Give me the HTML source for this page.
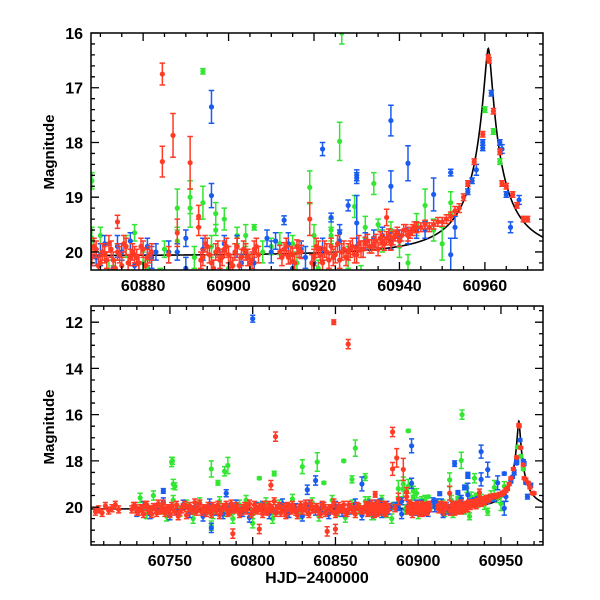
<!DOCTYPE html>
<html><head><meta charset="utf-8"><style>
html,body{margin:0;padding:0;background:#fff}
svg{display:block}
text{font-family:"Liberation Sans",sans-serif;fill:#000}
</style></head><body>
<svg id="chart" width="600" height="600" viewBox="0 0 600 600" xmlns="http://www.w3.org/2000/svg">
<defs>
<clipPath id="clipTop"><rect x="91" y="33" width="452" height="237"/></clipPath>
<clipPath id="clipBot"><rect x="91" y="306" width="452" height="239"/></clipPath>
</defs>
<g id="topPanel"></g>
<g id="botPanel"></g>
<text transform="translate(54,152) rotate(-90)" text-anchor="middle" font-size="15" font-weight="bold">Magnitude</text>
<text transform="translate(54,427) rotate(-90)" text-anchor="middle" font-size="15" font-weight="bold">Magnitude</text>
<text x="317" y="583" text-anchor="middle" font-size="16" font-weight="bold">HJD−2400000</text>
</svg>
<script>
const redX = [60705,60707,60709,60711,60713,60715,60717,60719,
60727,60729,60731,60733,60735,60737,60739,60741,60743,60745,
60747,60749,60751,60753,60755,60757,60759,60761,60763,60765,
60767,60769,60771,60773,60775,60777,60779,60781,60783,60785,
60787,60789,60791,60793,60795,60797,60799,60801,60803,60805,
60807,60809,60811,60813,60815,60817,60819,60821,60823,60825,
60827,60829,60831,60833,60835,60837,60839,60841,60843,60845,
60847,60849,60851,60853,60855,60857,60859,60861,60863,60865,
60868,60869,60870,60871,60872,60873,60874,60875,60876,60877,60878,60879,60880,60881,60882,
60886,60888,60884.5,60884.5,60887,60891,60874,
60893,60894,60895,60896,60897,60898,60899,60900,60901,60902,60903,60904,60905,60906,60907,60893,
60912,60913,60914,60915,60916,60917,
60919,60920,60921,60922,60923,60924,60925,60926,60927,60928,60929,60930,60931,60932,60933,60934,60935,60936,60937,60938,60939,60940,60941,60942,60943,60944,60937,
60945,60946,60947,60948,60949,60950,60951,60952,60953,60954,60955,60956,60957.5,60959.5,60960.8,60961,60962,60963.5,60964,60965,60966.5,60967.5,60969,60970,
60849,60857.7,60813.8,60811,60788,60804,60845,60850];
const redY = [20.2,20.1,20.25,19.95,20.15,20.05,19.9,20.1,
20.1,19.95,20.2,20.05,19.9,20.15,20.3,20.0,19.85,20.1,
20.25,20.05,19.95,20.2,20.4,20.1,19.9,20.05,20.15,19.8,
20.0,20.2,20.1,19.95,20.3,20.05,19.9,20.15,20.0,20.25,
19.85,20.1,20.05,20.2,19.95,20.0,20.3,19.9,20.15,20.05,
19.9,20.2,20.1,19.75,20.05,20.25,20.0,19.95,20.15,20.1,
20.35,19.9,20.05,20.2,19.85,20.1,20.0,20.3,19.95,20.15,
20.05,19.8,20.2,20.1,19.9,20.25,20.0,20.15,19.95,20.1,
20.1,19.95,20.2,20.05,19.85,20.15,20.0,20.25,19.9,20.1,20.05,20.2,19.95,20.1,20.0,
20.05,19.65,16.75,18.35,17.87,18.37,19.45,
19.55,20.1,19.9,20.2,20.0,20.15,19.95,20.05,20.25,19.9,20.1,20.0,20.2,19.95,20.05,19.35,
20.0,19.95,20.1,20.05,19.9,20.0,
19.4,20.1,19.95,20.2,20.0,19.9,20.05,20.15,19.95,20.0,19.9,20.05,19.95,19.85,19.9,19.85,19.95,19.8,19.75,19.85,19.7,19.8,19.6,19.7,19.6,19.55,19.37,
19.55,19.5,19.55,19.5,19.45,19.45,19.4,19.35,19.25,19.2,19.0,18.75,18.35,17.85,16.45,16.5,17.43,18.17,18.75,18.8,18.95,19.15,19.4,19.4,
12.0,12.95,16.95,19.05,21.15,20.95,21.05,20.95];
const redE = [0.15,0.15,0.15,0.15,0.15,0.15,0.15,0.15,
0.15,0.15,0.15,0.15,0.15,0.15,0.15,0.15,0.15,0.15,
0.15,0.15,0.15,0.15,0.15,0.15,0.15,0.15,0.15,0.15,
0.15,0.15,0.15,0.15,0.15,0.15,0.15,0.15,0.15,0.15,
0.15,0.15,0.15,0.15,0.15,0.15,0.15,0.15,0.15,0.15,
0.15,0.15,0.15,0.15,0.15,0.15,0.15,0.15,0.15,0.15,
0.15,0.15,0.15,0.15,0.15,0.15,0.15,0.15,0.15,0.15,
0.15,0.15,0.15,0.15,0.15,0.15,0.15,0.15,0.15,0.15,
0.15,0.15,0.15,0.15,0.15,0.15,0.15,0.15,0.15,0.15,0.15,0.15,0.15,0.15,0.15,
0.15,0.25,0.2,0.28,0.4,0.48,0.12,
0.15,0.15,0.15,0.15,0.15,0.15,0.15,0.15,0.15,0.15,0.15,0.15,0.15,0.15,0.15,0.2,
0.12,0.12,0.12,0.12,0.12,0.12,
0.3,0.15,0.15,0.15,0.15,0.15,0.15,0.15,0.15,0.15,0.15,0.15,0.15,0.12,0.12,0.12,0.12,0.12,0.12,0.12,0.1,0.1,0.1,0.1,0.1,0.1,0.15,
0.08,0.08,0.08,0.08,0.08,0.08,0.08,0.08,0.08,0.08,0.06,0.05,0.05,0.05,0.05,0.05,0.05,0.05,0.05,0.05,0.05,0.05,0.05,0.05,
0.1,0.2,0.2,0.2,0.2,0.2,0.2,0.2];

const red2X = [60728,60730,60732,60734,60736,60738,60740,60742,60744,60746,
60748,60750,60752,60754,60756,60758,60760,60762,60764,60766,
60768,60770,60772,60774,60776,60778,60780,60782,60784,60786,
60788,60790,60792,60794,60796,60798,60800,60802,60804,60806,
60808,60810,60812,60814,60816,60818,60820,60822,60824,60826,
60828,60830,60832,60834,60836,60838,60840,60842,60844,60846,
60848,60850,60852,60854,60856,60858,60860,60862,60864,60866,
60868.5,60869.5,60870.5,60871.5,60872.5,60873.5,60874.5,60875.5,60876.5,60877.5,60878.5,60879.5,60880.5,60881.5,
60893.5,60894.5,60895.5,60896.5,60897.5,60898.5,60899.5,60900.5,60901.5,60902.5,60903.5,60904.5,60905.5,60906.5,
60912.5,60913.5,60914.5,60915.5,60916.5,
60919.5,60920.5,60921.5,60922.5,60923.5,60924.5,60925.5,60926.5,60927.5,60928.5,60929.5,60930.5,60931.5,60932.5,60933.5,60934.5,60935.5,60936.5,60937.5,60938.5,60939.5,60940.5,60941.5,60942.5,60943.5];
const red2Y = [19.95,20.2,20.05,20.3,19.9,20.1,20.0,20.25,20.15,19.85,
20.05,20.3,20.1,19.9,20.2,20.0,20.35,19.95,20.1,20.2,
19.85,20.05,20.25,20.1,19.95,20.15,20.35,20.0,19.9,20.2,
20.1,19.95,20.3,20.05,20.15,19.85,20.2,20.1,20.0,20.3,
20.15,19.9,20.05,20.25,19.95,20.1,20.35,20.0,19.9,20.2,
20.05,20.15,19.85,20.3,20.1,20.0,20.2,19.9,20.25,20.05,
20.15,20.3,19.95,20.05,20.2,19.9,20.1,20.3,20.0,20.15,
19.9,20.25,20.0,20.15,19.95,20.3,20.05,19.85,20.2,20.0,20.1,19.9,20.25,20.05,
20.15,19.85,20.05,20.3,19.95,20.1,19.9,20.2,20.0,20.25,19.95,20.1,20.15,19.9,
20.1,19.9,20.05,20.2,19.95,
20.2,19.9,20.05,19.95,20.15,20.1,19.85,20.0,20.1,19.95,20.05,19.85,19.95,19.8,19.9,19.8,19.75,19.85,19.7,19.75,19.65,19.7,19.6,19.65,19.55];
const red2E = [0.15,0.15,0.15,0.15,0.15,0.15,0.15,0.15,0.15,0.15,
0.15,0.15,0.15,0.15,0.15,0.15,0.15,0.15,0.15,0.15,
0.15,0.15,0.15,0.15,0.15,0.15,0.15,0.15,0.15,0.15,
0.15,0.15,0.15,0.15,0.15,0.15,0.15,0.15,0.15,0.15,
0.15,0.15,0.15,0.15,0.15,0.15,0.15,0.15,0.15,0.15,
0.15,0.15,0.15,0.15,0.15,0.15,0.15,0.15,0.15,0.15,
0.15,0.15,0.15,0.15,0.15,0.15,0.15,0.15,0.15,0.15,
0.15,0.15,0.15,0.15,0.15,0.15,0.15,0.15,0.15,0.15,0.15,0.15,0.15,0.15,
0.15,0.15,0.15,0.15,0.15,0.15,0.15,0.15,0.15,0.15,0.15,0.15,0.15,0.15,
0.15,0.15,0.15,0.15,0.15,
0.15,0.15,0.15,0.15,0.15,0.15,0.15,0.15,0.15,0.15,0.15,0.15,0.15,0.12,0.12,0.12,0.12,0.12,0.12,0.12,0.1,0.1,0.1,0.1,0.1];

const blueX = [60730,60734,60738,60742,60746,60750,60754,60758,60762,60766,
60770,60774,60778,60782,60786,60790,60794,60798,60802,60806,
60810,60814,60818,60822,60826,60830,60834,60838,60842,60846,
60850,60854,60858,60862,60866,60870,60874,60878,60882,60886,
60890,60894,60898,60902,60906,60910,60914,60918,60922,60926,
60930,60934,60938,60942,60946,
60869,60871,60873,60875,60877,60879,60881,60883,60888,60890,60899,60903,60909,60911,60915,60917,60920,60926,60932,60936,60940,60944,
60896,60896,60922,60938,60938,60942,60930,60930,60930,60928,60924,60913,60952,60952,60953,60948,
60961.5,60959.5,60959.5,60963.5,60964,60966,60968,60965,60958,60956,60957,
60800,60746,60784,60838,60833,60866,60775];
const blueY = [20.2,19.95,20.3,20.05,19.8,20.35,20.1,19.9,20.25,20.0,
20.4,19.85,20.15,20.3,20.05,19.9,20.2,20.45,20.0,19.95,
20.3,20.1,19.85,20.25,20.05,20.4,19.9,20.15,20.0,20.3,
19.95,20.2,20.1,19.85,20.35,20.05,19.9,20.25,20.1,20.0,
20.3,19.95,20.15,19.9,20.2,20.0,19.85,20.1,19.95,19.8,
19.9,19.75,19.8,19.7,19.6,
20.1,19.85,20.3,20.0,19.8,20.2,19.9,20.0,20.0,19.75,19.85,20.2,19.75,19.8,20.3,19.95,20.2,19.65,19.8,19.7,19.75,19.6,
17.35,18.97,18.12,17.6,18.8,18.38,18.6,18.65,19.47,19.15,19.37,19.42,18.55,20.05,19.55,18.95,
17.1,18.0,18.1,18.0,18.12,19.55,19.05,18.95,18.5,18.9,18.7,
11.85,19.3,19.4,18.85,19.25,19.0,20.9];
const blueE = [0.2,0.2,0.2,0.2,0.2,0.2,0.2,0.2,0.2,0.2,
0.2,0.2,0.2,0.2,0.2,0.2,0.2,0.2,0.2,0.2,
0.2,0.2,0.2,0.2,0.2,0.2,0.2,0.2,0.2,0.2,
0.2,0.2,0.2,0.2,0.2,0.2,0.2,0.2,0.2,0.2,
0.2,0.2,0.2,0.2,0.2,0.2,0.2,0.2,0.2,0.2,
0.15,0.15,0.15,0.15,0.15,
0.15,0.15,0.15,0.15,0.15,0.15,0.15,0.15,0.15,0.15,0.15,0.15,0.15,0.15,0.15,0.15,0.15,0.15,0.15,0.15,0.15,0.15,
0.3,0.22,0.12,0.28,0.28,0.32,0.1,0.1,0.5,0.1,0.08,0.08,0.06,0.3,0.2,0.3,
0.05,0.05,0.05,0.05,0.08,0.1,0.08,0.05,0.1,0.05,0.05,
0.15,0.1,0.15,0.2,0.2,0.3,0.2];

const greenX = [60732,60736,60740,60744,60748,60752,60756,60760,60764,60768,
60772,60776,60780,60784,60788,60792,60796,60800,60804,60808,
60812,60816,60820,60824,60828,60832,60836,60840,60844,60848,
60852,60856,60860,60864,60868,60872,60876,60880,60884,60888,
60892,60896,60900,60904,60908,60912,60916,60920,60924,60928,
60932,60936,60940,60944,60948,
60870,60873,60878,60881,60885,60902,60905,60910,60915,60921,60924,60931,60938,60942,
60868,60894,60926.5,60926,60919,60934,60888,60891,60891,60894,60897,60899,60897,
60960,60962,60963.5,60929.5,60935,60906,60946,60950,60952,
60751,60751.5,60752,60753,60775,60783,60785,60779,60830,60839,60862,60860,60855,60804,60813,60843,60800,60775];
const greenY = [19.6,20.3,19.5,20.1,20.4,19.7,20.2,19.9,20.5,19.8,
20.1,20.3,19.75,20.2,20.5,19.9,19.7,20.3,20.0,19.8,
20.5,19.9,20.2,19.65,20.3,20.0,19.8,20.4,20.1,19.7,
20.2,20.45,19.9,20.1,19.75,20.35,19.9,20.2,20.5,19.8,
20.1,19.9,20.3,19.7,20.0,19.85,20.2,19.7,19.6,20.1,
19.55,19.8,19.9,19.5,19.6,
19.7,20.4,19.65,20.3,19.95,19.7,20.2,19.9,19.85,20.3,19.7,20.4,19.6,20.2,
18.7,16.7,16.0,17.98,18.82,18.75,19.2,19.0,19.2,19.1,19.3,19.4,19.6,
17.4,17.8,18.35,19.17,19.5,19.55,19.15,19.85,19.1,
18.05,18.0,19.0,19.1,18.35,18.45,18.2,18.95,18.25,18.05,17.45,18.8,18.0,18.75,18.55,18.95,20.7,20.8];
const greenE = [0.2,0.2,0.2,0.2,0.2,0.2,0.2,0.2,0.2,0.2,
0.2,0.2,0.2,0.2,0.2,0.2,0.2,0.2,0.2,0.2,
0.2,0.2,0.2,0.2,0.2,0.2,0.2,0.2,0.2,0.2,
0.2,0.2,0.2,0.2,0.2,0.2,0.2,0.2,0.2,0.2,
0.2,0.2,0.2,0.2,0.2,0.2,0.2,0.2,0.2,0.2,
0.2,0.2,0.2,0.2,0.2,
0.15,0.15,0.15,0.15,0.15,0.15,0.15,0.15,0.15,0.15,0.15,0.15,0.15,0.15,
0.15,0.05,0.2,0.35,0.3,0.2,0.35,0.3,0.35,0.3,0.2,0.2,0.1,
0.05,0.05,0.05,0.2,0.1,0.05,0.3,0.3,0.2,
0.2,0.15,0.2,0.15,0.35,0.2,0.35,0.1,0.3,0.4,0.35,0.15,0.05,0.05,0.1,0.05,0.2,0.2];

const topXTicks = [60880,60900,60920,60940,60960];
const topYTicks = [16,17,18,19,20];
const botXTicks = [60750,60800,60850,60900,60950];
const botYTicks = [12,14,16,18,20];

const NS='http://www.w3.org/2000/svg';
function mk(tag, attrs, parent){const e=document.createElementNS(NS,tag);for(const k in attrs)e.setAttribute(k,attrs[k]);parent.appendChild(e);return e;}

const panels = [
 {g:'topPanel',clip:'clipTop',L:91,R:543,T:33,B:270,x0:60867.8,x1:60973.6,y0:16,y1:20.33,xt:topXTicks,yt:topYTicks,xm:5,ym:0.2,cap:2.8,r:2.6,name:'top'},
 {g:'botPanel',clip:'clipBot',L:91,R:543,T:306,B:545,x0:60702.3,x1:60975.4,y0:11.3,y1:21.64,xt:botXTicks,yt:botYTicks,xm:10,ym:0.5,cap:2.6,r:2.6,name:'bottom'}
];

function model(t){
  const t0=60960.8, A=32, w = t<t0 ? 1.0 : 0.95;
  const f = 1 + A/(1+Math.pow(Math.abs(t-t0)/w,1.7));
  return 20.08 - 2.5*Math.log10(f);
}

panels.forEach(p=>{
  const G=document.getElementById(p.g);
  const sx=v=>p.L+(v-p.x0)/(p.x1-p.x0)*(p.R-p.L);
  const sy=v=>p.T+(v-p.y0)/(p.y1-p.y0)*(p.B-p.T);
  const data=mk('g',{'clip-path':'url(#'+p.clip+')'},G);
  
  
  let d='';
  for(let t=p.x0;t<=p.x1;t+=0.05){d+=(d?'L':'M')+sx(t).toFixed(2)+','+sy(model(t)).toFixed(2);}
  const curve=mk('path',{d:d,fill:'none',stroke:'#000','stroke-width':1.6},data);
  
  
  const series=[['green',greenX,greenY,greenE,'#33e633'],['blue',blueX,blueY,blueE,'#1a5cf0'],['red',red2X,red2Y,red2E,'#ff3b26'],['red',redX,redY,redE,'#ff3b26']];
  series.forEach(([nm,X,Y,E,col])=>{
    const sg=mk('g',{},data);
    
    
    for(let i=0;i<X.length;i++){
      const cx=sx(X[i]), cy=sy(Y[i]), e1=sy(Y[i]-E[i]), e2=sy(Y[i]+E[i]);
      mk('path',{d:`M${cx},${e1}V${e2}M${cx-p.cap},${e1}H${cx+p.cap}M${cx-p.cap},${e2}H${cx+p.cap}`,stroke:col,'stroke-width':1.5,fill:'none'},sg);
      const c=mk('circle',{cx:cx,cy:cy,r:p.r,fill:col},sg);
      
      
    }
  });
  const fr=mk('rect',{x:p.L,y:p.T,width:p.R-p.L,height:p.B-p.T,fill:'none',stroke:'#000','stroke-width':1.5},G);
  
  
  let td='';
  const xs=Math.ceil(p.x0/p.xm)*p.xm;
  for(let v=xs;v<=p.x1;v+=p.xm){const X=sx(v);const maj=p.xt.includes(Math.round(v));const l=maj?8:4;td+=`M${X},${p.B}v${-l}M${X},${p.T}v${l}`;}
  const ys=Math.ceil(p.y0/p.ym-1e-6)*p.ym;
  for(let v=ys;v<=p.y1+1e-6;v+=p.ym){const Y=sy(v);const maj=p.yt.some(t=>Math.abs(t-v)<1e-6);const l=maj?8:4;td+=`M${p.L},${Y}h${l}M${p.R},${Y}h${-l}`;}
  const ticks=mk('path',{d:td,stroke:'#000','stroke-width':1.3,fill:'none'},G);
  
  
  p.xt.forEach(v=>{const t=mk('text',{x:sx(v),y:p.B+21,'text-anchor':'middle','font-size':16,'font-weight':'bold'},G);t.textContent=v;
    
    });
  p.yt.forEach(v=>{const t=mk('text',{x:p.L-8,y:sy(v)+6,'text-anchor':'end','font-size':16,'font-weight':'bold'},G);t.textContent=v;
    
    });
});
</script>
</body></html>
